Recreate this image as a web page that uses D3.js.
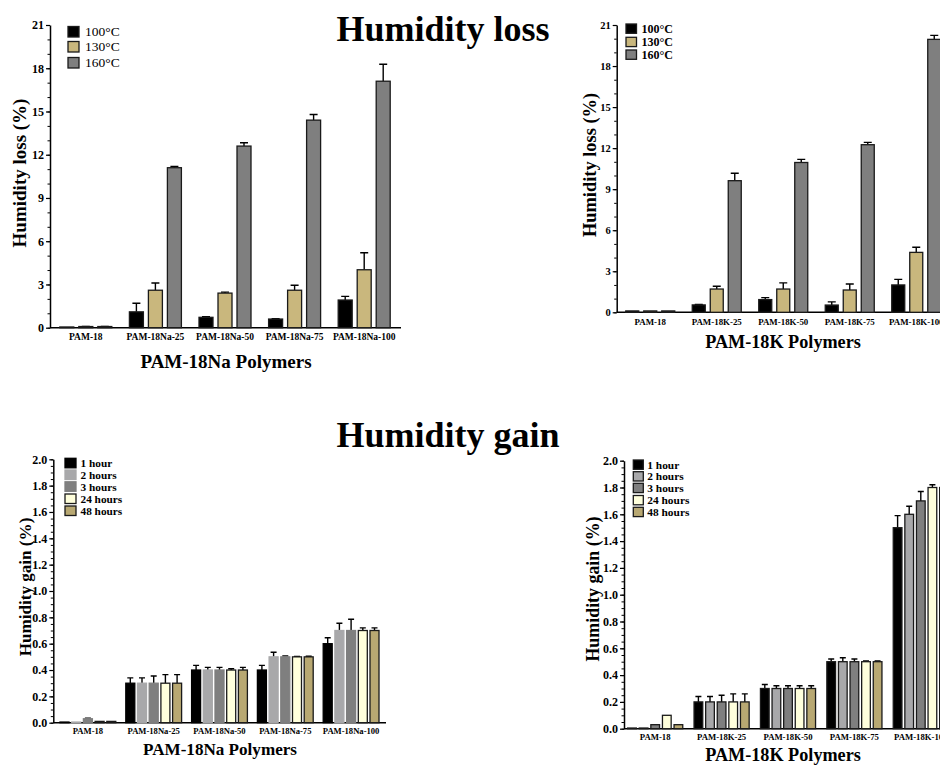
<!DOCTYPE html>
<html>
<head>
<meta charset="utf-8">
<script src="https://cdn.jsdelivr.net/npm/d3@7"></script>
<style>
    body { margin: 0; background: #fff; }
    svg { display: block; }
    text { font-family: "Liberation Serif", "Times New Roman", serif; font-weight: bold; fill: #000; }
</style>
</head>
<body>
<div id="chart"></div>
<script>
// *** Data
var naCategories = ["PAM-18", "PAM-18Na-25", "PAM-18Na-50", "PAM-18Na-75", "PAM-18Na-100"];
var kCategories = ["PAM-18", "PAM-18K-25", "PAM-18K-50", "PAM-18K-75", "PAM-18K-100"];

var lossSeries = ["100°C", "130°C", "160°C"];
var gainSeries = ["1 hour", "2 hours", "3 hours", "24 hours", "48 hours"];

// humidity loss, PAM-18Na
var naLoss100 = [0.05, 1.1, 0.72, 0.6, 1.92];
var naLoss130 = [0.08, 2.6, 2.4, 2.6, 4.02];
var naLoss160 = [0.08, 11.1, 12.6, 14.4, 17.1];
var naLossErr100 = [0, 0.6, 0.04, 0.02, 0.25];
var naLossErr130 = [0.01, 0.5, 0.07, 0.35, 1.18];
var naLossErr160 = [0.01, 0.09, 0.23, 0.39, 1.18];

// humidity loss, PAM-18K
var kLoss100 = [0.1, 0.54, 0.93, 0.53, 2.0];
var kLoss130 = [0.1, 1.7, 1.7, 1.63, 4.38];
var kLoss160 = [0.1, 9.62, 10.95, 12.25, 19.95];
var kLossErr100 = [0, 0.03, 0.14, 0.23, 0.41];
var kLossErr130 = [0, 0.2, 0.45, 0.44, 0.37];
var kLossErr160 = [0, 0.54, 0.23, 0.17, 0.29];

// humidity gain, PAM-18Na
var naGain1 = [0.005, 0.3, 0.4, 0.4, 0.6];
var naGain2 = [0.005, 0.3, 0.4, 0.5, 0.7];
var naGain3 = [0.03, 0.3, 0.4, 0.5, 0.7];
var naGain24 = [0.01, 0.3, 0.4, 0.5, 0.7];
var naGain48 = [0.01, 0.3, 0.4, 0.5, 0.7];
var naGainErr1 = [0, 0.04, 0.035, 0.035, 0.045];
var naGainErr2 = [0, 0.04, 0.02, 0.035, 0.055];
var naGainErr3 = [0.005, 0.055, 0.02, 0.006, 0.085];
var naGainErr24 = [0, 0.065, 0.01, 0.003, 0.02];
var naGainErr48 = [0, 0.065, 0.02, 0.005, 0.02];

// humidity gain, PAM-18K
var kGain1 = [0.005, 0.2, 0.3, 0.5, 1.5];
var kGain2 = [0.005, 0.2, 0.3, 0.5, 1.6];
var kGain3 = [0.03, 0.2, 0.3, 0.5, 1.7];
var kGain24 = [0.1, 0.2, 0.3, 0.5, 1.8];
var kGain48 = [0.03, 0.2, 0.3, 0.5, 1.8];
var kGainErr1 = [0, 0.04, 0.03, 0.02, 0.09];
var kGainErr2 = [0, 0.04, 0.02, 0.03, 0.06];
var kGainErr3 = [0, 0.05, 0.02, 0.02, 0.07];
var kGainErr24 = [0, 0.06, 0.02, 0.005, 0.02];
var kGainErr48 = [0, 0.06, 0.02, 0.005, 0.02];

var lossTicks = [0, 3, 6, 9, 12, 15, 18, 21];
var gainTicks = [0, 0.2, 0.4, 0.6, 0.8, 1.0, 1.2, 1.4, 1.6, 1.8, 2.0];

var lossColors = ["#000000", "#c9b77d", "#7f7f7f"];
var gainColors = ["#000000", "#a8a8aa", "#7f7f7f", "#ffffdc", "#b8a872"];

// *** Set up svg
var svg = d3.select("#chart").append("svg")
    .attr("width", 940)
    .attr("height", 765);

svg.append("text")
    .attr("x", 443).attr("y", 41)
    .attr("text-anchor", "middle")
    .style("font-size", "36px")
    .text("Humidity loss");

svg.append("text")
    .attr("x", 448).attr("y", 447)
    .attr("text-anchor", "middle")
    .style("font-size", "36px")
    .text("Humidity gain");

function drawPanel(p) {
    var g = svg.append("g");

    var x = d3.scaleBand().domain(p.categories).range(p.xRange).padding(0);
    var y = d3.scaleLinear().domain([0, p.yMax]).range(p.yRange);

    var half = p.step * p.series.length / 2;
    var x1 = d3.scaleBand().domain(p.series).range([-half, half]).padding(0);
    var strokes = p.strokes || p.series.map(function() { return "#1a1a1a"; });

    // minor ticks
    var minor = d3.range(0, p.yMax + p.minorStep / 2, p.minorStep);
    g.append("g")
        .attr("transform", "translate(" + p.axisX + ",0)")
        .call(d3.axisLeft(y).tickValues(minor).tickSize(2.5).tickFormat(""))
        .call(function(a) { a.select(".domain").remove(); })
        .selectAll("line").attr("stroke-width", 1);

    // y axis
    var yAxis = g.append("g")
        .attr("transform", "translate(" + p.axisX + ",0)")
        .call(d3.axisLeft(y).tickValues(p.ticks).tickSize(4).tickSizeOuter(0).tickPadding(2)
            .tickFormat(p.tickFormat));
    yAxis.select(".domain").attr("stroke-width", 1.5);
    yAxis.selectAll("line").attr("stroke-width", 1.2);
    yAxis.selectAll("text")
        .style("font-size", p.tickFont + "px")
        .style("font-family", '"Liberation Serif", serif')
        .style("font-weight", "bold");

    // x axis line
    g.append("line")
        .attr("x1", p.axisX).attr("x2", p.xRange[1] + 2)
        .attr("y1", y(0)).attr("y2", y(0))
        .attr("stroke", "#000").attr("stroke-width", 1.5);

    // category labels
    g.selectAll(".cat")
        .data(p.categories)
        .enter().append("text")
        .attr("x", function(d) { return x(d) + x.bandwidth() / 2; })
        .attr("y", p.catY)
        .attr("text-anchor", "middle")
        .style("font-size", p.catFont + "px")
        .text(function(d) { return d; });

    // bars + error bars
    var rows = [];
    p.series.forEach(function(s, si) {
        p.categories.forEach(function(c, ci) {
            rows.push({ cat: c, series: s, si: si, value: p.values[si][ci], err: p.errors[si][ci] });
        });
    });

    var bw = p.barW;
    function bx(d) { return x(d.cat) + x.bandwidth() / 2 + x1(d.series) + (x1.bandwidth() - bw) / 2; }

    g.selectAll(".err")
        .data(rows.filter(function(d) { return d.err > 0; }))
        .enter().append("path")
        .attr("class", "err")
        .attr("fill", "none")
        .attr("stroke", "#000")
        .attr("stroke-width", 1.4)
        .attr("d", function(d) {
            var cx = bx(d) + bw / 2, y0 = y(d.value), y1 = y(d.value + d.err);
            return "M" + cx + "," + y0 + "V" + y1 + "M" + (cx - p.cap) + "," + y1 + "H" + (cx + p.cap);
        });

    g.selectAll(".bar")
        .data(rows)
        .enter().append("rect")
        .attr("class", "bar")
        .attr("x", bx)
        .attr("width", bw)
        .attr("y", function(d) { return y(d.value); })
        .attr("height", function(d) { return Math.max(0.5, y(0) - y(d.value)); })
        .attr("fill", function(d) { return p.colors[d.si]; })
        .attr("stroke", function(d) { return strokes[d.si]; })
        .attr("stroke-width", 1.3);

    // legend
    var leg = g.selectAll(".leg")
        .data(p.series)
        .enter().append("g")
        .attr("transform", function(d, i) { return "translate(" + p.legX + "," + p.legY[i] + ")"; });
    leg.append("rect")
        .attr("width", p.legW).attr("height", p.legH)
        .attr("fill", function(d, i) { return p.colors[i]; })
        .attr("stroke", function(d, i) { return strokes[i]; }).attr("stroke-width", 1.3);
    leg.append("text")
        .attr("x", p.legW + p.legGap)
        .attr("y", p.legH / 2)
        .attr("dy", "0.35em")
        .style("font-size", p.legFont + "px")
        .style("font-weight", p.legWeight)
        .text(function(d) { return d; });

    // axis titles
    g.append("text")
        .attr("transform", "translate(" + p.yTitle[0] + "," + p.yTitle[1] + ") rotate(-90)")
        .attr("text-anchor", "middle")
        .style("font-size", p.yTitleFont + "px")
        .text(p.yLabel);

    g.append("text")
        .attr("x", p.xTitle[0]).attr("y", p.xTitle[1])
        .attr("text-anchor", "middle")
        .style("font-size", p.xTitleFont + "px")
        .text(p.xLabel);
}

var fmtInt = d3.format("d"), fmt1 = d3.format(".1f");

drawPanel({
    categories: naCategories, series: lossSeries, colors: lossColors,
    values: [naLoss100, naLoss130, naLoss160],
    errors: [naLossErr100, naLossErr130, naLossErr160],
    yMax: 21, ticks: lossTicks, minorStep: 1, tickFormat: fmtInt, tickFont: 12,
    axisX: 50, xRange: [51, 399], yRange: [327.7, 25],
    step: 19, barW: 14, cap: 4,
    catY: 340, catFont: 9.5,
    legX: 68, legY: [26.5, 41.5, 57.5], legW: 11, legH: 10.5, legGap: 6, legFont: 13.5, legWeight: "normal",
    yLabel: "Humidity loss (%)", yTitle: [26, 173], yTitleFont: 19,
    xLabel: "PAM-18Na Polymers", xTitle: [226, 368], xTitleFont: 19
});

drawPanel({
    categories: kCategories, series: lossSeries, colors: lossColors,
    values: [kLoss100, kLoss130, kLoss160],
    errors: [kLossErr100, kLossErr130, kLossErr160],
    yMax: 21, ticks: lossTicks, minorStep: 1, tickFormat: fmtInt, tickFont: 10.5,
    axisX: 616.7, xRange: [617, 949.5], yRange: [312.3, 25],
    step: 18, barW: 13, cap: 4,
    catY: 325, catFont: 8.9,
    legX: 626, legY: [24, 37.3, 50], legW: 10.5, legH: 9.3, legGap: 5, legFont: 12, legWeight: "bold",
    yLabel: "Humidity loss (%)", yTitle: [596, 165], yTitleFont: 18.4,
    xLabel: "PAM-18K Polymers", xTitle: [783, 348], xTitleFont: 18.2
});

drawPanel({
    categories: naCategories, series: gainSeries, colors: gainColors,
    strokes: ["#000000", "#a8a8aa", "#7f7f7f", "#1a1a1a", "#1a1a1a"],
    values: [naGain1, naGain2, naGain3, naGain24, naGain48],
    errors: [naGainErr1, naGainErr2, naGainErr3, naGainErr24, naGainErr48],
    yMax: 2.0, ticks: gainTicks, minorStep: 0.05, tickFormat: fmt1, tickFont: 12,
    axisX: 53.3, xRange: [55, 384], yRange: [722.7, 459.3],
    step: 11.7, barW: 9, cap: 3,
    catY: 734, catFont: 8.6,
    legX: 65, legY: [458.3, 470, 481.8, 494, 506], legW: 11, legH: 9.5, legGap: 4.5, legFont: 11.3, legWeight: "bold",
    yLabel: "Humidity gain (%)", yTitle: [31, 587], yTitleFont: 17.1,
    xLabel: "PAM-18Na Polymers", xTitle: [220, 755], xTitleFont: 17.1
});

drawPanel({
    categories: kCategories, series: gainSeries, colors: gainColors,
    values: [kGain1, kGain2, kGain3, kGain24, kGain48],
    errors: [kGainErr1, kGainErr2, kGainErr3, kGainErr24, kGainErr48],
    yMax: 2.0, ticks: gainTicks, minorStep: 0.05, tickFormat: fmt1, tickFont: 12,
    axisX: 624, xRange: [622, 954], yRange: [728.7, 460.7],
    step: 11.6, barW: 8.7, cap: 3,
    catY: 740, catFont: 8.7,
    legX: 633.3, legY: [460, 471.7, 483.3, 495.5, 507.3], legW: 10, legH: 9.3, legGap: 4, legFont: 11.4, legWeight: "bold",
    yLabel: "Humidity gain (%)", yTitle: [599, 589], yTitleFont: 17.9,
    xLabel: "PAM-18K Polymers", xTitle: [783, 761], xTitleFont: 18.2
});
</script>
</body>
</html>
